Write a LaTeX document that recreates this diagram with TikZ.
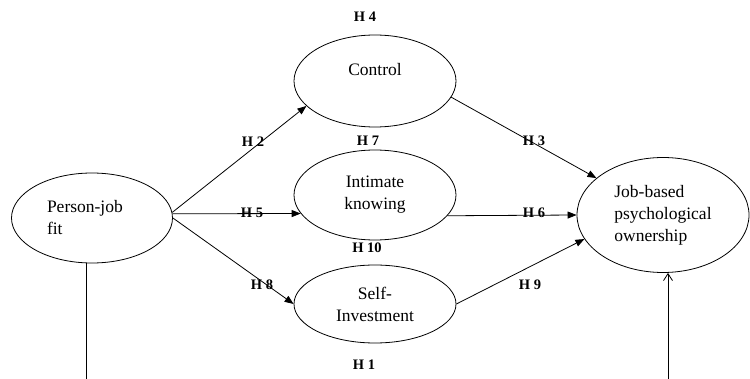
\documentclass[tikz,border=0pt]{standalone}
\usepackage{fontspec}
\setmainfont{Liberation Serif}
\usepackage{tikz}
\usetikzlibrary{positioning, arrows.meta, shapes.geometric}

\begin{document}
\begin{tikzpicture}[
        x=1pt, y=-1pt,
        construct/.style={ellipse, draw, line width=0.8pt, inner sep=0pt,
            font=\fontsize{17.5}{22}\selectfont},
        hyp/.style={font=\fontsize{14.5}{16}\selectfont\bfseries, inner sep=0pt},
        path/.style={-{Triangle[length=9pt, width=7pt]}, line width=0.8pt},
        direct/.style={-{Straight Barb[length=7pt, width=9pt]}, line width=0.8pt}
    ]
        \useasboundingbox (0,0) rectangle (750,379);

        % constructs
        \node[construct, minimum width=161pt, minimum height=90pt,
            text width=90pt, align=left] (pj) at (92,218) {Person-job\\fit};
        \node[construct, minimum width=162pt, minimum height=92pt, align=center]
            (ctrl) at (375,81) {Control\\[2pt]~};
        \node[construct, minimum width=162pt, minimum height=90pt, align=center]
            (ik) at (375,195) {Intimate\\knowing};
        \node[construct, minimum width=162pt, minimum height=78pt, align=center]
            (si) at (375,304) {Self-\\Investment};
        \node[construct, minimum width=172pt, minimum height=115pt, align=left]
            (job) at (663,215) {Job-based\\psychological\\ownership};

        % paths
        \draw[path] (pj.4) -- (ctrl.200);
        \draw[path] (pj.3) -- (ik.194);
        \draw[path] (pj.east) -- (si.west);
        \draw[path] (ctrl.348) -- (job.151);
        \draw[path] (ik.344) -- (job.west);
        \draw[path] (si.east) -- (job.197);

        % direct effect
        \coordinate (pjfoot) at (86,379);
        \coordinate (jobfoot) at (668,379);
        \draw[line width=0.8pt] (pjfoot |- pj.south) -- (pjfoot);
        \draw[direct] (jobfoot) -- (jobfoot |- job.south);

        % hypotheses
        \node[hyp] (h4) at (365,17) {H 4};
        \node[hyp] (h2) at (253,142) {H 2};
        \node[hyp] (h7) at (368,141) {H 7};
        \node[hyp] (h3) at (534,141) {H 3};
        \node[hyp] (h5) at (252,213) {H 5};
        \node[hyp] (h6) at (534,213) {H 6};
        \node[hyp] (h10) at (367,248) {H 10};
        \node[hyp] (h8) at (262,285) {H 8};
        \node[hyp] (h9) at (530,285) {H 9};
        \node[hyp] (h1) at (364,365) {H 1};
    \end{tikzpicture}
\end{document}
